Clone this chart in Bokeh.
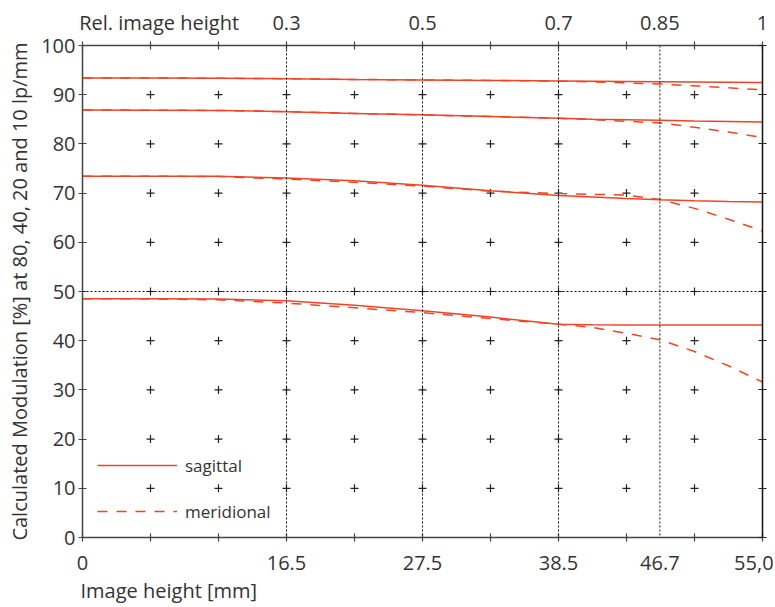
from bokeh.plotting import figure
from bokeh.models import (FixedTicker, LinearAxis, Span, Legend, LegendItem,
                          Range1d, Title)
from bokeh.embed import file_html
from bokeh.resources import INLINE

# ---------------- data ----------------
x_mm = [0, 5.5, 11, 16.5, 22, 27.5, 33, 38.5, 41.25, 44, 46.7, 49.5, 52.25, 55]

sag_10 = [93.4, 93.4, 93.35, 93.25, 93.1, 93.0, 92.9, 92.8, 92.75, 92.7, 92.65, 92.6, 92.55, 92.5]
mer_10 = [93.4, 93.4, 93.35, 93.25, 93.1, 93.0, 92.9, 92.75, 92.6, 92.4, 92.15, 91.8, 91.4, 91.0]
sag_20 = [86.9, 86.85, 86.8, 86.55, 86.2, 85.9, 85.55, 85.2, 85.0, 84.9, 84.8, 84.65, 84.55, 84.45]
mer_20 = [86.9, 86.85, 86.8, 86.55, 86.2, 85.9, 85.55, 85.2, 84.95, 84.6, 84.25, 83.4, 82.4, 81.3]
sag_40 = [73.45, 73.45, 73.4, 73.05, 72.5, 71.6, 70.5, 69.5, 69.2, 68.9, 68.65, 68.45, 68.3, 68.2]
mer_40 = [73.45, 73.45, 73.35, 72.85, 72.2, 71.4, 70.4, 69.9, 69.75, 69.6, 68.7, 66.9, 64.7, 62.3]
sag_80 = [48.55, 48.55, 48.5, 48.1, 47.2, 46.1, 44.8, 43.35, 43.25, 43.2, 43.2, 43.2, 43.2, 43.2]
mer_80 = [48.55, 48.5, 48.3, 47.65, 46.7, 45.7, 44.5, 43.35, 42.7, 41.5, 40.2, 37.8, 34.9, 31.6]

y_ticks = [0, 10, 20, 30, 40, 50, 60, 70, 80, 90, 100]
x_minor_ticks = [0, 5.5, 11, 16.5, 22, 27.5, 33, 38.5, 44, 49.5, 55]
x_label_pos = [0, 16.5, 27.5, 38.5, 46.7, 54.3]
x_labels = ["0", "16.5", "27.5", "38.5", "46.7", "55,0"]
top_label_pos = [6.2, 16.5, 27.5, 38.5, 46.7, 55]
top_labels = ["Rel. image height", "0.3", "0.5", "0.7", "0.85", "1"]
guide_x = [16.5, 27.5, 38.5, 46.7]
guide_y = [50]
marker_cols = [5.5, 11, 16.5, 22, 27.5, 33, 38.5, 44, 49.5]
marker_rows = [10, 20, 30, 40, 50, 60, 70, 80, 90]

# ---------------- style ----------------
FONT = "Open Sans"
RED = "#ef4526"
AXIS = "#444444"
TXT = "#333333"
FS = "20px"

p = figure(width=775, height=607,
           x_range=Range1d(0, 55), y_range=Range1d(0, 100),
           x_axis_type=None, y_axis_type=None,
           output_backend="svg", toolbar_location=None,
           min_border_left=82, min_border_right=13,
           min_border_top=45, min_border_bottom=70,
           background_fill_color="white", border_fill_color="white")
p.outline_line_color = None


def style_axis(ax):
    ax.axis_line_color = AXIS
    ax.axis_line_width = 1.5
    ax.major_label_text_font = FONT
    ax.major_label_text_font_size = FS
    ax.major_label_text_color = TXT
    ax.axis_label_text_font = FONT
    ax.axis_label_text_font_size = FS
    ax.axis_label_text_font_style = "normal"
    ax.axis_label_text_color = TXT


# left axis
left = LinearAxis(ticker=FixedTicker(ticks=y_ticks),
                  axis_label="Calculated Modulation [%] at 80, 40, 20 and 10 lp/mm")
style_axis(left)
left.major_tick_in = 4
left.major_tick_out = 4
left.major_tick_line_color = AXIS
left.major_tick_line_width = 1.2
left.minor_tick_line_color = None
left.major_label_standoff = 3
left.axis_label_standoff = 5
left.major_label_overrides = {v: str(v) for v in y_ticks}
p.add_layout(left, "left")

# bottom axis
bottom = LinearAxis(ticker=FixedTicker(ticks=x_label_pos, minor_ticks=x_minor_ticks))
style_axis(bottom)
bottom.major_tick_in = 4
bottom.major_tick_out = 4
bottom.major_tick_line_color = None
bottom.minor_tick_in = 4
bottom.minor_tick_out = 4
bottom.minor_tick_line_color = AXIS
bottom.minor_tick_line_width = 1.2
bottom.major_label_standoff = 14
bottom.major_label_overrides = dict(zip(x_label_pos, x_labels))
p.add_layout(bottom, "below")

# x-axis caption, left aligned under the axis
p.add_layout(Title(text="Image height [mm]", align="left", offset=-2, standoff=4,
                   text_font=FONT, text_font_size=FS, text_font_style="normal",
                   text_color=TXT), "below")

# top axis
top = LinearAxis(ticker=FixedTicker(ticks=top_label_pos, minor_ticks=x_minor_ticks))
style_axis(top)
top.major_tick_in = 4
top.major_tick_out = 4
top.major_tick_line_color = None
top.minor_tick_in = 4
top.minor_tick_out = 4
top.minor_tick_line_color = AXIS
top.minor_tick_line_width = 1.2
top.major_label_standoff = 6
top.major_label_overrides = dict(zip(top_label_pos, top_labels))
p.add_layout(top, "above")

# right axis (line + crossing ticks, no labels)
right = LinearAxis(ticker=FixedTicker(ticks=y_ticks))
right.axis_line_color = "#111111"
right.axis_line_width = 1.5
right.major_tick_in = 4
right.major_tick_out = 4
right.major_tick_line_color = "#222222"
right.major_tick_line_width = 1.2
right.minor_tick_line_color = None
right.major_label_text_font_size = "0px"
right.major_label_standoff = 0
right.major_label_overrides = {v: "" for v in y_ticks}
p.add_layout(right, "right")

# dotted guide lines
for gx in guide_x:
    p.add_layout(Span(location=gx, dimension="height", line_color="#111111",
                      line_dash="2 2", line_width=1))
for gy in guide_y:
    p.add_layout(Span(location=gy, dimension="width", line_color="#111111",
                      line_dash="2 2", line_width=1))

# plus markers grid
mx = [c for r in marker_rows for c in marker_cols]
my = [r for r in marker_rows for c in marker_cols]
p.scatter(mx, my, marker="cross", size=8, line_color="#222222", line_width=1.2)

# curves
series = [(sag_10, mer_10), (sag_20, mer_20), (sag_40, mer_40), (sag_80, mer_80)]
r_s = r_m = None
for s, m in series:
    rm = p.line(x_mm, m, line_color=RED, line_width=1.5, line_dash="10 9")
    rs = p.line(x_mm, s, line_color=RED, line_width=1.5)
    if r_s is None:
        r_s, r_m = rs, rm

legend = Legend(items=[LegendItem(label="sagittal", renderers=[r_s]),
                       LegendItem(label="meridional", renderers=[r_m])],
                location=(15, 14), orientation="vertical",
                glyph_width=80, glyph_height=24, spacing=22,
                label_standoff=8, padding=0, margin=0,
                border_line_color=None, background_fill_alpha=0,
                label_text_font=FONT, label_text_font_size="17px",
                label_text_color=TXT)
p.add_layout(legend)

open("out.html", "w").write(file_html(p, INLINE))
